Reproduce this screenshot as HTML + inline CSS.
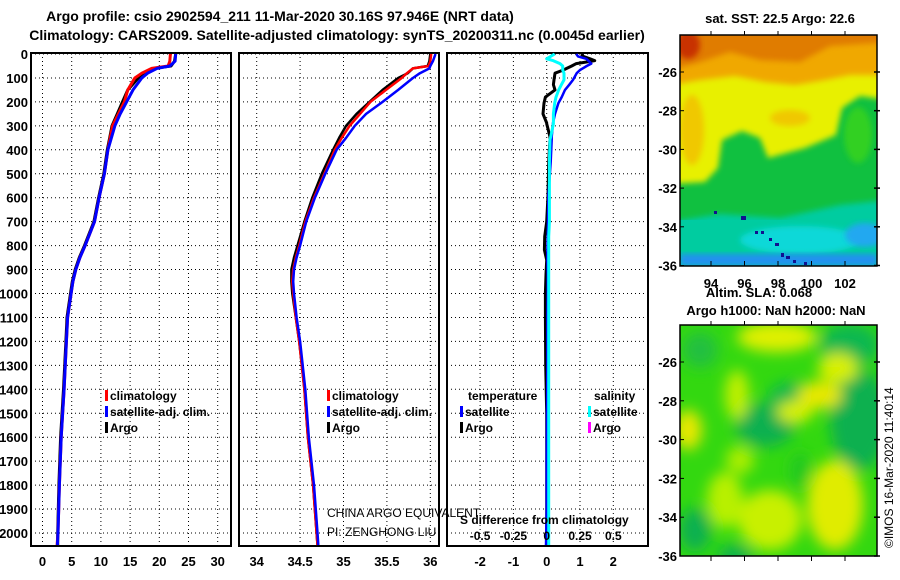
<!DOCTYPE html>
<html><head><meta charset="utf-8"><style>
html,body{margin:0;padding:0;background:#fff}
svg{display:block}
text{font-family:"Liberation Sans",Arial,sans-serif;font-weight:bold;fill:#000}
</style></head><body>
<svg id="chart" width="900" height="580" viewBox="0 0 900 580" xmlns="http://www.w3.org/2000/svg">
<defs>
<filter id="blur3" x="-20%" y="-20%" width="140%" height="140%"><feGaussianBlur stdDeviation="3"/></filter>
<filter id="blur6" x="-30%" y="-30%" width="160%" height="160%"><feGaussianBlur stdDeviation="7"/></filter>
<clipPath id="clipMap1"><rect x="680" y="35" width="197" height="231"/></clipPath>
<clipPath id="clipMap2"><rect x="680" y="325" width="197" height="231"/></clipPath>
</defs>
<text x="280" y="21" font-size="14" text-anchor="middle">Argo profile: csio 2902594_211 11-Mar-2020 30.16S 97.946E (NRT data)</text>
<text x="337" y="40" font-size="14" text-anchor="middle">Climatology: CARS2009. Satellite-adjusted climatology: synTS_20200311.nc (0.0045d earlier)</text>

<g clip-path="url(#clipMap1)">
<rect x="680" y="35" width="197" height="231" fill="#00c8a8"/>
<rect x="680" y="35" width="197" height="185" fill="#10c040"/>
<polygon filter="url(#blur3)" fill="#e8f000" points="670,25 887,25 887,100 860,96 842,108 836,135 805,148 790,152 768,158 760,138 742,131 722,140 718,168 705,182 670,184"/>
<ellipse filter="url(#blur3)" cx="858" cy="135" rx="14" ry="28" fill="#30d020"/>
<ellipse filter="url(#blur3)" cx="692" cy="130" rx="12" ry="35" fill="#f0c800"/>
<ellipse filter="url(#blur3)" cx="790" cy="118" rx="20" ry="8" fill="#f0c800"/>
<polygon filter="url(#blur3)" fill="#f0a800" points="670,25 887,25 887,75 850,75 825,80 795,85 765,82 735,76 700,80 670,85"/>
<polygon filter="url(#blur3)" fill="#e07c00" points="670,25 887,25 887,42 830,46 800,62 760,60 730,52 700,62 670,70"/>
<ellipse filter="url(#blur3)" cx="688" cy="45" rx="12" ry="14" fill="#c83000"/>
<polygon filter="url(#blur3)" fill="#00cca0" points="670,222 720,214 780,218 840,205 887,200 887,270 670,270"/>
<ellipse filter="url(#blur3)" cx="800" cy="240" rx="60" ry="14" fill="#10d8d8"/>
<ellipse filter="url(#blur3)" cx="865" cy="235" rx="20" ry="12" fill="#20a8f0"/>
<rect x="680" y="254" width="197" height="12" fill="#2090f0" filter="url(#blur3)"/>
<rect x="714" y="211" width="3" height="3" fill="#101090"/>
<rect x="741" y="216" width="5" height="4" fill="#101090"/>
<rect x="755" y="231" width="3" height="3" fill="#101090"/>
<rect x="761" y="231" width="3" height="3" fill="#101090"/>
<rect x="769" y="238" width="3" height="3" fill="#101090"/>
<rect x="775" y="243" width="4" height="3" fill="#101090"/>
<rect x="781" y="253" width="3" height="4" fill="#101090"/>
<rect x="786" y="256" width="4" height="3" fill="#101090"/>
<rect x="793" y="260" width="3" height="3" fill="#101090"/>
<rect x="804" y="262" width="3" height="3" fill="#101090"/>
</g>
<rect x="680" y="35" width="197" height="231" fill="none" stroke="#000" stroke-width="1.5"/>
<text x="780" y="23" font-size="13" text-anchor="middle">sat. SST: 22.5 Argo: 22.6</text>
<text x="759" y="297" font-size="13" text-anchor="middle">Altim. SLA: 0.068</text>

<g clip-path="url(#clipMap2)">
<rect x="680" y="325" width="197" height="231" fill="#33d810"/>
<g filter="url(#blur6)">
<ellipse cx="850" cy="345" rx="30" ry="22" fill="#10b850"/>
<ellipse cx="860" cy="420" rx="30" ry="50" fill="#10b050"/>
<ellipse cx="765" cy="425" rx="30" ry="22" fill="#10b050"/>
<ellipse cx="790" cy="400" rx="22" ry="18" fill="#10b850"/>
<ellipse cx="700" cy="350" rx="18" ry="18" fill="#20c040"/>
<ellipse cx="695" cy="530" rx="16" ry="22" fill="#10b050"/>
<ellipse cx="735" cy="555" rx="18" ry="10" fill="#10b050"/>
<ellipse cx="777" cy="337" rx="40" ry="15" fill="#e0f000"/>
<ellipse cx="838" cy="368" rx="20" ry="15" fill="#d8f000"/>
<ellipse cx="820" cy="395" rx="22" ry="14" fill="#e8e800"/>
<ellipse cx="795" cy="412" rx="18" ry="11" fill="#d8f000"/>
<ellipse cx="737" cy="395" rx="12" ry="25" fill="#c0f000"/>
<ellipse cx="688" cy="430" rx="14" ry="20" fill="#e8e800"/>
<ellipse cx="835" cy="505" rx="28" ry="45" fill="#e0ec00"/>
<ellipse cx="770" cy="520" rx="32" ry="30" fill="#c8f000"/>
<ellipse cx="725" cy="500" rx="18" ry="28" fill="#b8f000"/>
<ellipse cx="740" cy="460" rx="14" ry="14" fill="#aaee00"/>
<ellipse cx="800" cy="470" rx="10" ry="18" fill="#22c820"/>
</g>
</g>
<rect x="680" y="325" width="197" height="231" fill="none" stroke="#000" stroke-width="1.5"/>
<text x="776" y="315" font-size="13" text-anchor="middle">Argo h1000: NaN h2000: NaN</text>
<text transform="translate(893,548) rotate(-90)" font-size="12" style="font-weight:normal">©IMOS 16-Mar-2020 11:40:14</text>
<g id="plots"></g>
</svg>
<script>
// ---- data ----
const depthLevels = [0,30,50,60,80,100,150,200,250,300,350,400,500,600,700,800,850,900,950,1000,1100,1200,1400,1600,1800,2000,2050];
const tempClim   = [21.9,21.8,21.5,18.7,17.0,15.8,14.6,14.0,13.0,12.0,11.6,11.2,10.6,9.7,8.9,7.3,6.4,5.7,5.2,4.9,4.3,4.1,3.7,3.2,2.9,2.65,2.5];
const tempSatAdj = [22.8,22.7,21.8,19.6,18.0,17.0,15.5,14.4,13.3,12.4,11.8,11.2,10.6,9.7,8.9,7.3,6.4,5.7,5.2,4.9,4.3,4.1,3.7,3.2,2.9,2.65,2.55];
const tempArgo   = [22.8,22.6,22.0,19.1,17.4,16.4,14.6,13.7,12.8,11.9,11.5,11.1,10.5,9.6,8.8,7.2,6.3,5.6,5.1,4.8,4.2,4.0,3.6,3.1,2.8,2.6,2.6];
const salClim    = [36.01,36.0,35.98,35.80,35.73,35.67,35.49,35.31,35.19,35.07,34.98,34.90,34.78,34.66,34.56,34.49,34.45,34.42,34.41,34.42,34.45,34.49,34.55,34.59,34.65,34.69,34.70];
const salSatAdj  = [36.06,36.03,36.0,35.99,35.88,35.80,35.63,35.45,35.26,35.13,35.03,34.92,34.79,34.67,34.57,34.50,34.46,34.43,34.42,34.43,34.46,34.50,34.56,34.60,34.66,34.70,34.71];
const salArgo    = [36.0,35.99,35.97,35.80,35.74,35.63,35.45,35.30,35.15,35.03,34.95,34.88,34.75,34.64,34.55,34.47,34.43,34.40,34.40,34.41,34.45,34.49,34.55,34.59,34.65,34.69,34.70];
const diffDepths = [0,10,20,28,40,50,60,67,80,108,128,150,180,205,250,288,291,346,357,450,590,700,762,818,860,920,998,1100,1300,1500,1700,1900,2050];
const tDiffSat   = [0.89,0.94,1.19,1.25,1.34,1.2,1.08,1.0,0.9,0.79,0.68,0.55,0.45,0.35,0.25,0.19,0.19,0.15,0.15,0.12,0.05,0.04,0.03,0.02,0.02,0.03,0.03,0.02,0.02,0.01,0.0,0.0,-0.02];
const tDiffArgo  = [1.04,1.1,1.3,1.44,0.89,0.75,0.6,0.5,0.25,0.22,0.2,0.25,-0.04,-0.08,-0.11,0.0,0.0,0.1,0.1,0.06,0.04,0.0,-0.06,-0.07,0.0,-0.02,-0.04,-0.04,-0.03,0.0,0.0,0.0,0.0];
const sDiffSat   = [0.06,0.03,0.0,0.05,0.1,0.12,0.12,0.12,0.13,0.13,0.11,0.09,0.07,0.06,0.05,0.05,0.05,0.03,0.025,0.02,0.02,0.02,0.015,0.015,0.015,0.015,0.015,0.015,0.015,0.015,0.015,0.015,0.015];
const depthTicks = [0,100,200,300,400,500,600,700,800,900,1000,1100,1200,1300,1400,1500,1600,1700,1800,1900,2000];
const tempTicks = [0,5,10,15,20,25,30];
const salTicks = [34,34.5,35,35.5,36];
const tdTicks = [-2,-1,0,1,2];
const sdTickLabels = ["-0.5","-0.25","0","0.25","0.5"];
const latTicks = [-26,-28,-30,-32,-34,-36];
const lonTicks = [94,96,98,100,102];

// ---- axes ----
const NS = "http://www.w3.org/2000/svg";
const plots = document.getElementById('plots');
const TOP = 53, BOT = 546;
const yD = d => 54 + d * 0.2395;
const xT = t => 42.5 + t * 5.84;
const xS = s => 256.7 + (s - 34) * 86.8;
const xTD = v => 546.7 + v * 33.3;
const xSD = v => 546.7 + v * 4 * 33.3;
const yLat1 = l => 72 + (-26 - l) * 19.35;
const yLat2 = l => 362 + (-26 - l) * 19.4;
const xLon = l => 711 + (l - 94) * 16.75;

function mk(tag, attrs, parent) {
  const e = document.createElementNS(NS, tag);
  for (const k in attrs) e.setAttribute(k, attrs[k]);
  (parent || plots).appendChild(e);
  return e;
}
function txt(str, x, y, size, anchor, parent) {
  const t = mk('text', {x: x, y: y, 'font-size': size, 'text-anchor': anchor || 'start'}, parent);
  t.textContent = str;
  return t;
}

const panels = [
  {x0: 31, x1: 231, name: 'temperature-panel', ticks: tempTicks, fx: xT},
  {x0: 239, x1: 439, name: 'salinity-panel', ticks: salTicks, fx: xS},
  {x0: 447, x1: 648, name: 'difference-panel', ticks: tdTicks, fx: xTD}
];
panels.forEach(p => {
  const g = mk('g', {});
  
  
  depthTicks.forEach(d => {
    const l = mk('line', {x1: p.x0, x2: p.x1, y1: yD(d), y2: yD(d), stroke: '#000', 'stroke-width': 1, 'stroke-dasharray': '1,3'}, g);
    
    
  });
  p.ticks.forEach(v => {
    const l = mk('line', {x1: p.fx(v), x2: p.fx(v), y1: TOP, y2: BOT, stroke: '#000', 'stroke-width': 1, 'stroke-dasharray': '1,3'}, g);
    
    
    const t = txt(String(v), p.fx(v), 566, 13, 'middle', g);
    
    
  });
  const r = mk('rect', {x: p.x0, y: TOP, width: p.x1 - p.x0, height: BOT - TOP, fill: 'none', stroke: '#000', 'stroke-width': 2}, g);
  
  
});
depthTicks.forEach(d => {
  const t = txt(String(d), 28, yD(d) + 5, 13, 'end');
  
  
});

function line(xs, ds, fx, color, w, name) {
  const pts = xs.map((v, i) => fx(v).toFixed(1) + ',' + yD(ds[i]).toFixed(1)).join(' ');
  const pl = mk('polyline', {points: pts, fill: 'none', stroke: color, 'stroke-width': w, 'stroke-linejoin': 'round'});
  
  
}
line(tempArgo, depthLevels, xT, '#000', 3, 'temp-argo-line');
line(tempClim, depthLevels, xT, '#ff0000', 3, 'temp-climatology-line');
line(tempSatAdj, depthLevels, xT, '#0000ff', 3, 'temp-satellite-adj-line');
line(salArgo, depthLevels, xS, '#000', 2.5, 'sal-argo-line');
line(salClim, depthLevels, xS, '#ff0000', 2.5, 'sal-climatology-line');
line(salSatAdj, depthLevels, xS, '#0000ff', 2.5, 'sal-satellite-adj-line');
line(tDiffArgo, diffDepths, xTD, '#000', 3, 'temp-diff-argo-line');
line(tDiffSat, diffDepths, xTD, '#0000ff', 2.5, 'temp-diff-satellite-line');
line(sDiffSat, diffDepths, xSD, '#00ffff', 3, 'sal-diff-satellite-line');

// legends
function legendEntry(x, y, color, label, name) {
  const g = mk('g', {});
  
  
  mk('rect', {x: x, y: y - 10, width: 3, height: 11, fill: color}, g);
  txt(label, x + 5, y, 12, 'start', g);
}
[[105, 'temp'], [327, 'sal']].forEach(([lx, k]) => {
  legendEntry(lx, 400, '#ff0000', 'climatology', k + '-legend-climatology');
  legendEntry(lx, 416, '#0000ff', 'satellite-adj. clim.', k + '-legend-satellite-adj');
  legendEntry(lx, 432, '#000', 'Argo', k + '-legend-argo');
});
let t;
t = txt('temperature', 468, 400, 12);  
t = txt('salinity', 594, 400, 12);  
legendEntry(460, 416, '#0000ff', 'satellite', 'legend-temp-satellite');
legendEntry(460, 432, '#000', 'Argo', 'legend-temp-argo');
legendEntry(588, 416, '#00ffff', 'satellite', 'legend-sal-satellite');
legendEntry(588, 432, '#ff00ff', 'Argo', 'legend-sal-argo');
t = txt('S difference from climatology', 460, 524, 12);  
sdTickLabels.forEach((s, i) => {
  const tt = txt(s, xTD(tdTicks[i]), 540, 12, 'middle');
  
  
});
t = mk('text', {x: 327, y: 517, 'font-size': 12, style: 'font-weight:normal'}); t.textContent = 'CHINA ARGO EQUIVALENT';
 
t = mk('text', {x: 327, y: 536, 'font-size': 12, style: 'font-weight:normal'}); t.textContent = 'PI: ZENGHONG LIU';
 

// map axes
latTicks.forEach(l => {
  [[yLat1, 'sst'], [yLat2, 'sla']].forEach(([fy, k]) => {
    const y = fy(l);
    mk('line', {x1: 874, x2: 880, y1: y, y2: y, stroke: '#000', 'stroke-width': 1.5});
    mk('line', {x1: 680, x2: 684, y1: y, y2: y, stroke: '#000', 'stroke-width': 1});
    const tl = txt(String(l), 677, y + 5, 13, 'end');
    
    
  });
});
lonTicks.forEach(l => {
  mk('line', {x1: xLon(l), x2: xLon(l), y1: 266, y2: 261, stroke: '#000', 'stroke-width': 1});
  mk('line', {x1: xLon(l), x2: xLon(l), y1: 35, y2: 31, stroke: '#000', 'stroke-width': 1});
  mk('line', {x1: xLon(l), x2: xLon(l), y1: 556, y2: 561, stroke: '#000', 'stroke-width': 1});
  mk('line', {x1: xLon(l), x2: xLon(l), y1: 325, y2: 321, stroke: '#000', 'stroke-width': 1});
  const tl = txt(String(l), xLon(l), 288, 13, 'middle');
  
  
});
</script>
</body></html>
